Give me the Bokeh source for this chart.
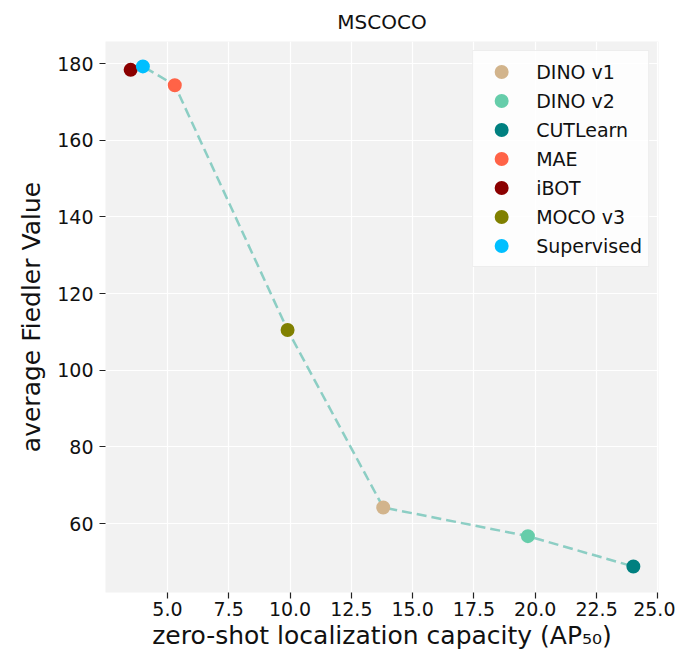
from bokeh.plotting import figure
from bokeh.models import ColumnDataSource, Range1d, FixedTicker, NumeralTickFormatter, Legend, LegendItem
from bokeh.embed import file_html
from bokeh.resources import INLINE

methods = ["DINO v1", "DINO v2", "CUTLearn", "MAE", "iBOT", "MOCO v3", "Supervised"]
ap50 = [13.8, 19.7, 24.0, 5.3, 3.5, 9.9, 4.0]
fiedler = [64.2, 56.7, 48.8, 174.4, 178.4, 110.5, 179.3]
colors = ["#D2B48C", "#66CDAA", "#008080", "#FF6347", "#8B0000", "#808000", "#00BFFF"]
x_ticks = [5.0, 7.5, 10.0, 12.5, 15.0, 17.5, 20.0, 22.5, 25.0]
y_ticks = [60, 80, 100, 120, 140, 160, 180]

FONT = "DejaVu Sans"

p = figure(width=675, height=654, output_backend="svg", toolbar_location=None,
           x_range=Range1d(2.475, 25.025), y_range=Range1d(42.0, 185.8),
           min_border_left=105, min_border_right=17, min_border_top=38, min_border_bottom=62,
           title="MSCOCO")
p.title.align = "center"
p.title.text_font = FONT
p.title.text_font_size = "20px"
p.title.text_font_style = "normal"
p.title.text_color = "#111111"
p.title.standoff = 15

p.background_fill_color = "#F2F2F2"
p.border_fill_color = "white"
p.outline_line_color = None
p.grid.grid_line_color = "white"
p.grid.grid_line_width = 1.2

for ax in (p.xaxis[0], p.yaxis[0]):
    ax.axis_line_color = None
    ax.major_tick_line_color = "#222222"
    ax.major_tick_line_width = 1.2
    ax.major_tick_in = 0
    ax.major_tick_out = 6
    ax.minor_tick_line_color = None
    ax.major_label_text_font = FONT
    ax.major_label_text_font_size = "19px"
    ax.major_label_text_color = "#111111"
    ax.axis_label_text_font = FONT
    ax.axis_label_text_font_size = "25px"
    ax.axis_label_text_font_style = "normal"
    ax.axis_label_text_color = "#111111"

p.xaxis.ticker = FixedTicker(ticks=x_ticks)
p.xaxis.formatter = NumeralTickFormatter(format="0.0")
p.yaxis.ticker = FixedTicker(ticks=y_ticks)
p.xaxis.axis_label = "zero-shot localization capacity (AP\u2085\u2080)"
p.yaxis.axis_label = "average Fiedler Value"
p.xaxis.major_label_standoff = 3
p.yaxis.major_label_standoff = 6
p.xaxis.axis_label_standoff = 2
p.yaxis.axis_label_standoff = 8

order = sorted(range(len(ap50)), key=lambda i: ap50[i])
line_src = ColumnDataSource(dict(x=[ap50[i] for i in order], y=[fiedler[i] for i in order]))
p.line("x", "y", source=line_src, line_color="#72C4B8", line_alpha=0.8, line_width=2.5, line_dash="10 5")

items = []
for i, m in enumerate(methods):
    src = ColumnDataSource(dict(x=[ap50[i]], y=[fiedler[i]]))
    r = p.scatter("x", "y", source=src, size=11.6, line_width=2.4,
                  fill_color=colors[i], line_color=colors[i])
    items.append(LegendItem(label=m, renderers=[r]))

legend = Legend(items=items, location="top_right")
legend.label_text_font = FONT
legend.label_text_font_size = "19px"
legend.label_text_color = "#111111"
legend.background_fill_color = "white"
legend.background_fill_alpha = 0.8
legend.border_line_color = "#DDDDDD"
legend.border_line_width = 1
legend.spacing = 0
legend.padding = 6
legend.margin = 9
legend.glyph_width = 44
legend.glyph_height = 29
legend.label_height = 29
legend.label_standoff = 13
p.add_layout(legend)

open("out.html", "w").write(file_html(p, INLINE))
